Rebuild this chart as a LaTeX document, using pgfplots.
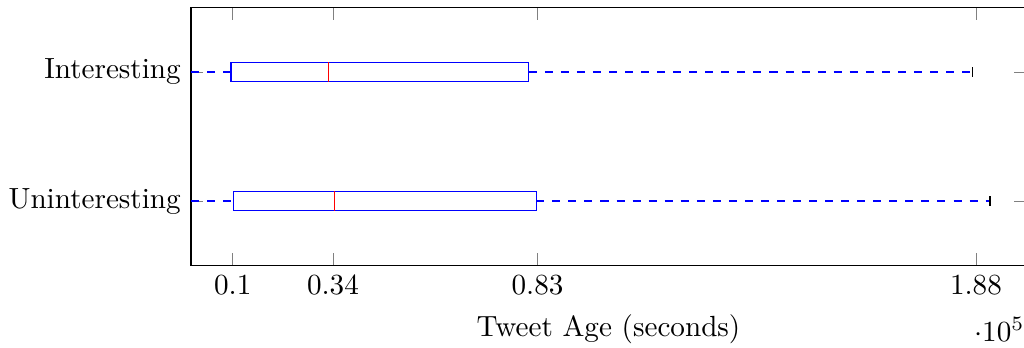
\documentclass[border=0pt]{standalone}
\usepackage{pgfplots}
\pgfplotsset{compat=1.18}
\definecolor{bxblue}{RGB}{0,0,255}
\definecolor{bxred}{RGB}{255,0,0}
\begin{document}
\begin{tikzpicture}
\begin{axis}[
  at={(0,0)}, anchor=south west,
  scale only axis,
  width=286.2pt, height=88.45pt,
  xmin=0, xmax=200000,
  ymin=0.5, ymax=2.5,
  xtick={10000,34000,83000,188000},
  ytick={1,2},
  yticklabels={Uninteresting,Interesting},
  xlabel={Tweet Age (seconds)},
  scaled x ticks=base 10:-5,
  every x tick scale label/.style={at={(xticklabel* cs:0.968,0pt)},anchor=north,inner sep=0pt, yshift=-17.6pt},
  whisk/.style={draw=bxblue, line width=0.4pt, dash pattern=on 2.75pt off 2.75pt, mark=none},
  bx/.style={draw=bxblue, line width=0.4pt, solid, mark=none},
  med/.style={draw=bxred, line width=0.4pt, solid, mark=none},
  cap/.style={draw=black, solid, mark=none},
]
% Interesting (y = 2)
\addplot[whisk] coordinates {(0,2) (9580,2)};
\addplot[whisk] coordinates {(80900,2) (187270,2)};
\addplot[bx] coordinates {(9580,1.925) (80900,1.925) (80900,2.075) (9580,2.075)} -- cycle;
\addplot[med] coordinates {(32900,1.925) (32900,2.075)};
\addplot[cap] coordinates {(187270,1.9625) (187270,2.0375)};
% Uninteresting (y = 1)
\addplot[whisk] coordinates {(0,1) (10130,1)};
\addplot[whisk] coordinates {(82700,1) (191350,1)};
\addplot[bx] coordinates {(10130,0.925) (82700,0.925) (82700,1.075) (10130,1.075)} -- cycle;
\addplot[med] coordinates {(34340,0.925) (34340,1.075)};
\addplot[cap] coordinates {(191350,0.9625) (191350,1.0375)};
\end{axis}
\pgfresetboundingbox
\path[use as bounding box] (-65.47pt,-27.94pt) rectangle (285.5pt,91.02pt);
\end{tikzpicture}
\end{document}
